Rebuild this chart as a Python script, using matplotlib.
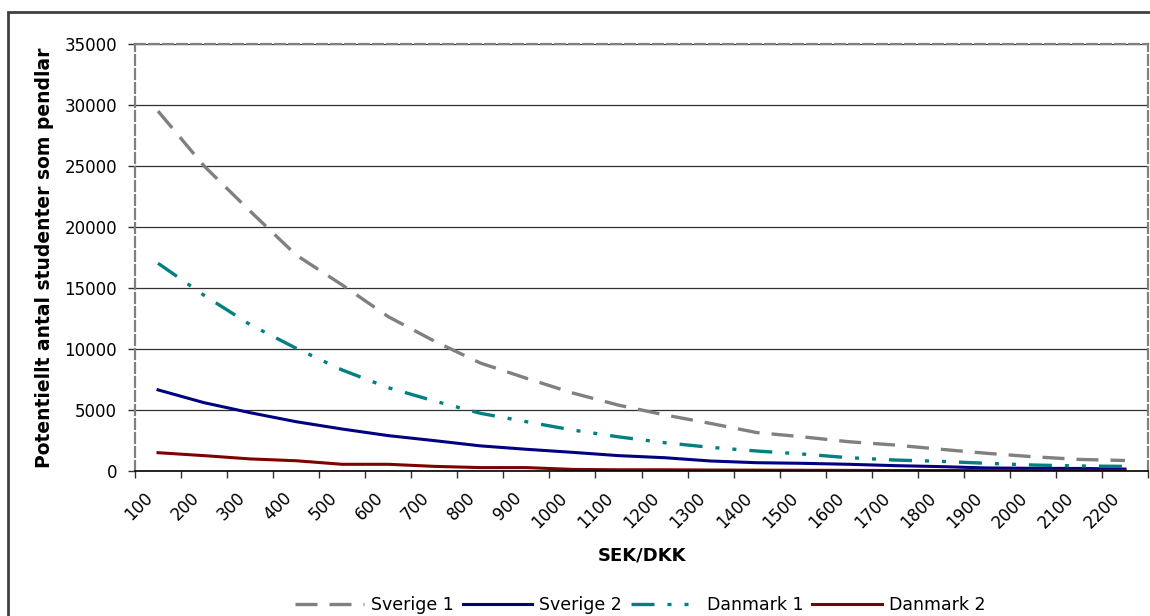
import matplotlib
matplotlib.use("Agg")
import matplotlib.pyplot as plt
import matplotlib.transforms as mtransforms
from matplotlib.patches import Rectangle
import numpy as np

categories = [100, 200, 300, 400, 500, 600, 700, 800, 900, 1000, 1100,
              1200, 1300, 1400, 1500, 1600, 1700, 1800, 1900, 2000, 2100, 2200]
sverige1 = [29500, 25000, 21300, 17700, 15250, 12650, 10650, 8850, 7600, 6400,
            5400, 4600, 3900, 3150, 2800, 2400, 2130, 1780, 1450, 1170, 950, 860]
sverige2 = [6650, 5600, 4780, 4040, 3440, 2900, 2490, 2060, 1780, 1530,
            1260, 1090, 820, 680, 630, 550, 440, 360, 250, 220, 210, 160]
danmark1 = [17030, 14400, 12000, 10060, 8280, 6830, 5740, 4730, 4040, 3360,
            2800, 2320, 1940, 1640, 1390, 1090, 900, 790, 630, 490, 410, 380]
danmark2 = [1500, 1260, 990, 840, 550, 550, 380, 280, 280, 130,
            100, 100, 80, 70, 60, 50, 40, 40, 30, 30, 20, 20]
series_names = ["Sverige 1", "Sverige 2", "Danmark 1", "Danmark 2"]
yticks = [0, 5000, 10000, 15000, 20000, 25000, 30000, 35000]

plt.rcParams['font.family'] = ['DejaVu Sans']

W, H = 1150, 616
fig = plt.figure(figsize=(W / 100, H / 100), dpi=100)
fig.patch.set_facecolor('white')

# outer border
fig.patches.append(Rectangle((8 / W, -0.05), 1.2, (616 - 12) / H + 0.05,
                             transform=fig.transFigure, fill=False,
                             edgecolor='#404040', linewidth=2.0))

left, right, top, bottom = 135, 1148, 44, 471
ax = fig.add_axes([left / W, (H - bottom) / H, (right - left) / W, (bottom - top) / H])

x = np.arange(len(categories))

def px(v):
    return v * 72 / 100.0

lw1 = 2.4
ax.plot(x, sverige1, color='#808080', linewidth=lw1,
        linestyle=(0, (px(22) / lw1, px(12) / lw1)), label=series_names[0],
        solid_capstyle='butt', dash_capstyle='butt')
lw2 = 2.2
ax.plot(x, sverige2, color='#000080', linewidth=lw2, label=series_names[1])
lw3 = 2.4
ax.plot(x, danmark1, color='#008080', linewidth=lw3,
        linestyle=(0, (px(23) / lw3, px(13) / lw3, px(4) / lw3, px(13) / lw3,
                       px(4) / lw3, px(13) / lw3)),
        label=series_names[2], dash_capstyle='butt')
ax.plot(x, danmark2, color='#800000', linewidth=lw2, label=series_names[3])

ax.set_xlim(-0.5, len(categories) - 0.5)
ax.set_ylim(0, 35000)
ax.set_yticks(yticks)
ax.set_yticklabels([str(v) for v in yticks], fontsize=12)
ax.yaxis.grid(True, color='#303030', linewidth=0.9)
ax.set_axisbelow(True)

ax.set_xticks(x)
ax.set_xticklabels([str(c) for c in categories], fontsize=12, rotation=45,
                   ha='right', va='top', rotation_mode='anchor')
ax.set_xticks(np.arange(len(categories) + 1) - 0.5, minor=True)
ax.tick_params(axis='x', which='major', length=0, pad=13)
ax.tick_params(axis='x', which='minor', length=5, width=1, color='#303030', direction='out')
ax.tick_params(axis='y', length=5, width=1, color='#303030', direction='out', pad=8)
offset = mtransforms.ScaledTranslation(-14 / 100, 0, fig.dpi_scale_trans)
for lab in ax.get_xticklabels():
    lab.set_transform(lab.get_transform() + offset)

sp_lw = 1.6
for side in ['left', 'top', 'right']:
    ax.spines[side].set_color('#808080')
    ax.spines[side].set_linestyle((0, (px(10) / sp_lw, px(4) / sp_lw)))
    ax.spines[side].set_linewidth(sp_lw)
ax.spines['bottom'].set_color('black')
ax.spines['bottom'].set_linewidth(1.2)

ax.set_ylabel("Potentiellt antal studenter som pendlar", fontsize=13.5,
              fontweight='bold')
ax.yaxis.set_label_coords(-(135 - 54) / (right - left), 0.5)
fig.text(642 / W, 1 - 556 / H, "SEK/DKK", fontsize=13, fontweight='bold',
         ha='center', va='center')

leg = fig.legend(loc='center', bbox_to_anchor=(640 / W, 1 - 605 / H), ncol=4,
                 frameon=False, fontsize=12.5, handlelength=4.0,
                 handletextpad=0.4, columnspacing=0.5, borderpad=0)

fig.savefig("out.png", dpi=100, facecolor='white')
